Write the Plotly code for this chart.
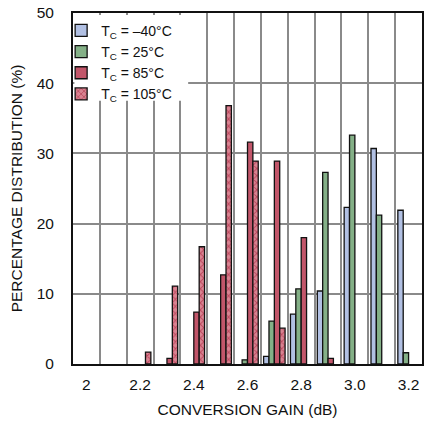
import plotly.graph_objects as go

# Bin centres of conversion gain (dB)
gain_bins = [2.0, 2.1, 2.2, 2.3, 2.4, 2.5, 2.6, 2.7, 2.8, 2.9, 3.0, 3.1, 3.2]

# Percentage distribution per case temperature
tc_m40 = [None, None, None, None, None, None, None, 1.1, 7.1, 10.4, 22.3, 30.7, 21.9]
tc_25 = [None, None, None, None, None, None, 0.6, 6.1, 10.7, 27.3, 32.6, 21.2, 1.6]
tc_85 = [None, None, None, 0.8, 7.4, 12.7, 31.6, 28.9, 18.0, 0.8, None, None, None]
tc_105 = [None, None, 1.7, 11.1, 16.7, 36.8, 28.9, 5.1, None, None, None, None, None]

series_names = ["T<sub>C</sub> = –40°C", "T<sub>C</sub> = 25°C",
                "T<sub>C</sub> = 85°C", "T<sub>C</sub> = 105°C"]

x_tickvals = [2.0, 2.2, 2.4, 2.6, 2.8, 3.0, 3.2]
x_ticktext = ["2", "2.2", "2.4", "2.6", "2.8", "3.0", "3.2"]

FONT = "Liberation Sans, Arial, sans-serif"
FS = 15.5
GRID = "#8a8a8a"

fig = go.Figure()
outline = dict(color="#111111", width=1.3)

fig.add_trace(go.Bar(x=gain_bins, y=tc_m40, name=series_names[0],
                     marker=dict(color="#b1c0e3", line=outline)))
fig.add_trace(go.Bar(x=gain_bins, y=tc_25, name=series_names[1],
                     marker=dict(color="#84b087", line=outline)))
fig.add_trace(go.Bar(x=gain_bins, y=tc_85, name=series_names[2],
                     marker=dict(color="#c2566a", line=outline)))
fig.add_trace(go.Bar(x=gain_bins, y=tc_105, name=series_names[3],
                     marker=dict(color="#d47a88", line=outline,
                                 pattern=dict(shape="x", fgcolor="#9e0e2a",
                                              bgcolor="#d88391", size=5,
                                              solidity=0.35))))

# white backing behind the legend (covers grid lines like the reference)
fig.add_shape(type="rect", xref="paper", yref="paper",
              x0=0.004, x1=0.33, y0=0.75, y1=0.994,
              fillcolor="white", line=dict(width=0), layer="above")

fig.update_layout(
    width=424, height=421,
    margin=dict(l=73, r=2, t=13, b=57, autoexpand=False),
    paper_bgcolor="white", plot_bgcolor="white",
    barmode="group", bargap=0.2, bargroupgap=0,
    font=dict(family=FONT, size=FS, color="#111111"),
    showlegend=True,
    legend=dict(x=-0.034, y=0.995, xanchor="left", yanchor="top",
                bgcolor="rgba(0,0,0,0)", borderwidth=0,
                font=dict(family=FONT, size=14),
                tracegroupgap=0, itemwidth=30),
)

fig.update_xaxes(
    range=[1.95, 3.25], automargin=False,
    tickmode="array", tickvals=x_tickvals, ticktext=x_ticktext,
    showgrid=False, ticks="", ticklabelstandoff=5,
    tickfont=dict(family=FONT, size=FS),
    minor=dict(tick0=2.05, dtick=0.1, showgrid=True, gridcolor=GRID,
               gridwidth=1.5, ticks=""),
    showline=True, linecolor="#111111", linewidth=2, mirror=True,
    title=dict(text="CONVERSION GAIN (dB)", standoff=13,
               font=dict(family=FONT, size=FS)),
    zeroline=False,
)
fig.update_yaxes(
    range=[0, 50], dtick=10, tick0=0, automargin=False,
    showgrid=True, gridcolor=GRID, gridwidth=1.5,
    ticks="", ticklabelstandoff=14,
    tickfont=dict(family=FONT, size=FS),
    showline=True, linecolor="#111111", linewidth=2, mirror=True,
    title=dict(text="PERCENTAGE DISTRIBUTION (%)", standoff=10,
               font=dict(family=FONT, size=FS)),
    zeroline=False,
)

# remove the default page margin so the 424x421 figure fills the window
fig.write_html("out.html",
               config={"displayModeBar": False},
               post_script="document.body.style.margin='0';"
                           "document.body.style.overflow='hidden';")
